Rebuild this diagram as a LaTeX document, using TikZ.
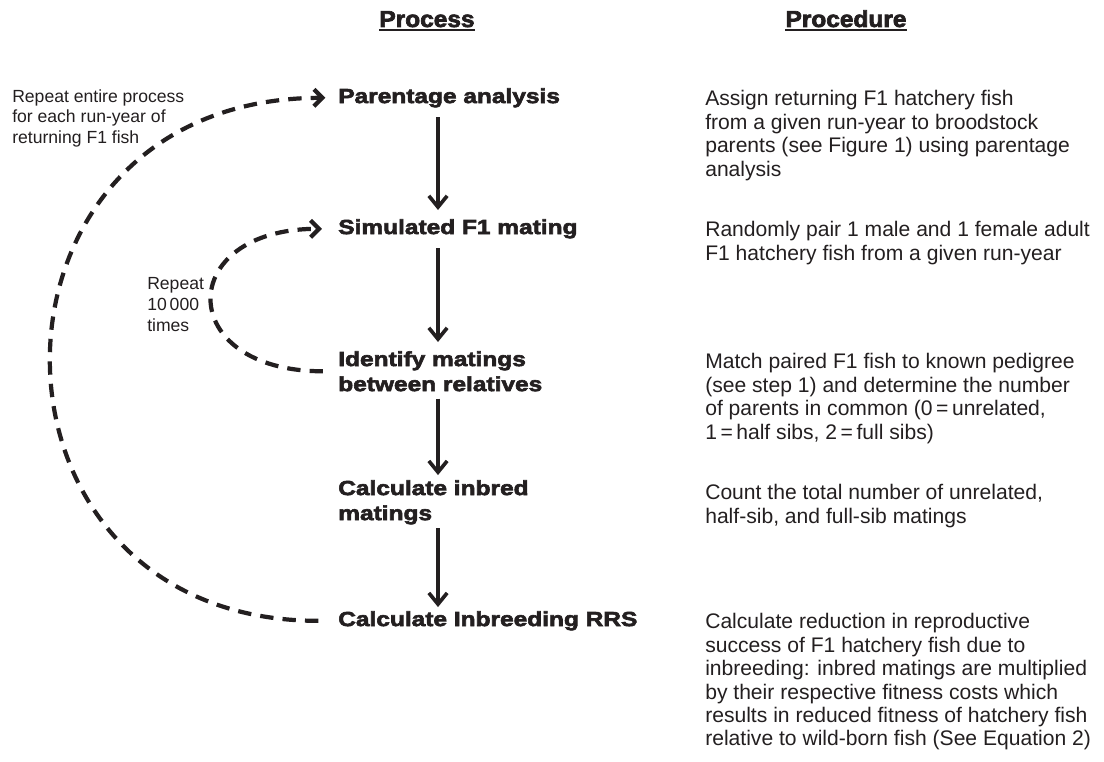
\documentclass[tikz,border=0pt]{standalone}
\usepackage{fontspec}
\setmainfont{Liberation Sans}
\newfontfamily\heavyfont[FakeStretch=1.2,FakeBold=3]{Liberation Sans Bold}
\newfontfamily\headfont[FakeStretch=1.06,FakeBold=3]{Liberation Sans Bold}
\usetikzlibrary{arrows.meta}
\definecolor{ink}{HTML}{231F20}

\begin{document}
\begin{tikzpicture}
      [x=0.025cm,y=-0.025cm,
      every node/.style={inner sep=0pt,text=ink},
      head/.style={font=\headfont\fontsize{16.4}{18}\selectfont,anchor=base},
      stage/.style={font=\heavyfont\fontsize{14.5}{17.8}\selectfont,anchor=north west,align=left},
      task/.style={font=\fontsize{15}{16.7}\selectfont,anchor=north west,align=left},
      remark/.style={font=\fontsize{12.5}{14.9}\selectfont,anchor=north west,align=left},
      flow/.style={draw=ink,line width=2.6pt,-{Straight Barb[length=8pt,width=13pt]}},
      loop/.style={draw=ink,line width=3pt,dash pattern=on 9.5pt off 6.5pt,-{Straight Barb[length=6pt,width=12pt]}}]
     \useasboundingbox (0,0) rectangle (1104,762);
     % column heads
     \node[head] (hproc) at (427,27) {Process};
     \node[head] (hstep) at (846,27) {Procedure};
     \draw[ink,line width=1.5pt] ([yshift=-2.1pt]hproc.base west) -- ([yshift=-2.1pt]hproc.base east);
     \draw[ink,line width=1.5pt] ([yshift=-2.1pt]hstep.base west) -- ([yshift=-2.1pt]hstep.base east);
     % process column
     \node[stage] (pa) at (338,88) {Parentage analysis};
     \node[stage] (sim) at (338,219) {Simulated F1 mating};
     \node[stage] (ident) at (338,351) {Identify matings\\between relatives};
     \node[stage] (inb) at (338,480) {Calculate inbred\\matings};
     \node[stage] (rrs) at (338,611) {Calculate Inbreeding RRS};
     \coordinate (spine) at (438,0);
     \draw[flow,shorten <=6.9pt,shorten >=6.4pt] (pa.south -| spine) -- (sim.north -| spine);
     \draw[flow,shorten <=6.9pt,shorten >=6.4pt] (sim.south -| spine) -- (ident.north -| spine);
     \draw[flow,shorten <=5pt,shorten >=3.5pt] (ident.south -| spine) -- (inb.north -| spine);
     \draw[flow,shorten <=2.6pt,shorten >=2.8pt] (inb.south -| spine) -- (rrs.north -| spine);
     % procedure column
     \node[task] (t1) at (705,90) {Assign returning F1 hatchery fish\\from a given run-year to broodstock\\parents (see Figure 1) using parentage\\analysis};
     \node[task] (t2) at (705,221) {Randomly pair 1 male and 1 female adult\\F1 hatchery fish from a given run-year};
     \node[task] (t3) at (705,353) {Match paired F1 fish to known pedigree\\(see step 1) and determine the number\\of parents in common (0\,=\,unrelated,\\1\,=\,half sibs, 2\,=\,full sibs)};
     \node[task] (t4) at (705,484) {Count the total number of unrelated,\\half-sib, and full-sib matings};
     \node[task] (t5) at (705,613) {Calculate reduction in reproductive\\success of F1 hatchery fish due to\\inbreeding: inbred matings are multiplied\\by their respective fitness costs which\\results in reduced fitness of hatchery fish\\relative to wild-born fish (See Equation 2)};
     % repeat loops
     \node[remark] (outer) at (12,89) {Repeat entire process\\for each run-year of\\returning F1 fish};
     \node[remark] (inner) at (147,277) {Repeat\\10\,000\\times};
     \draw[loop,shorten <=14pt,shorten >=9pt] (rrs.west) .. controls +(-378,0) and +(-378,0) .. (pa.west);
     \draw[loop,shorten <=10.7pt,shorten >=11.4pt] (ident.west) .. controls +(-164,0) and +(-164,0) .. (sim.west);
    \end{tikzpicture}
\end{document}
